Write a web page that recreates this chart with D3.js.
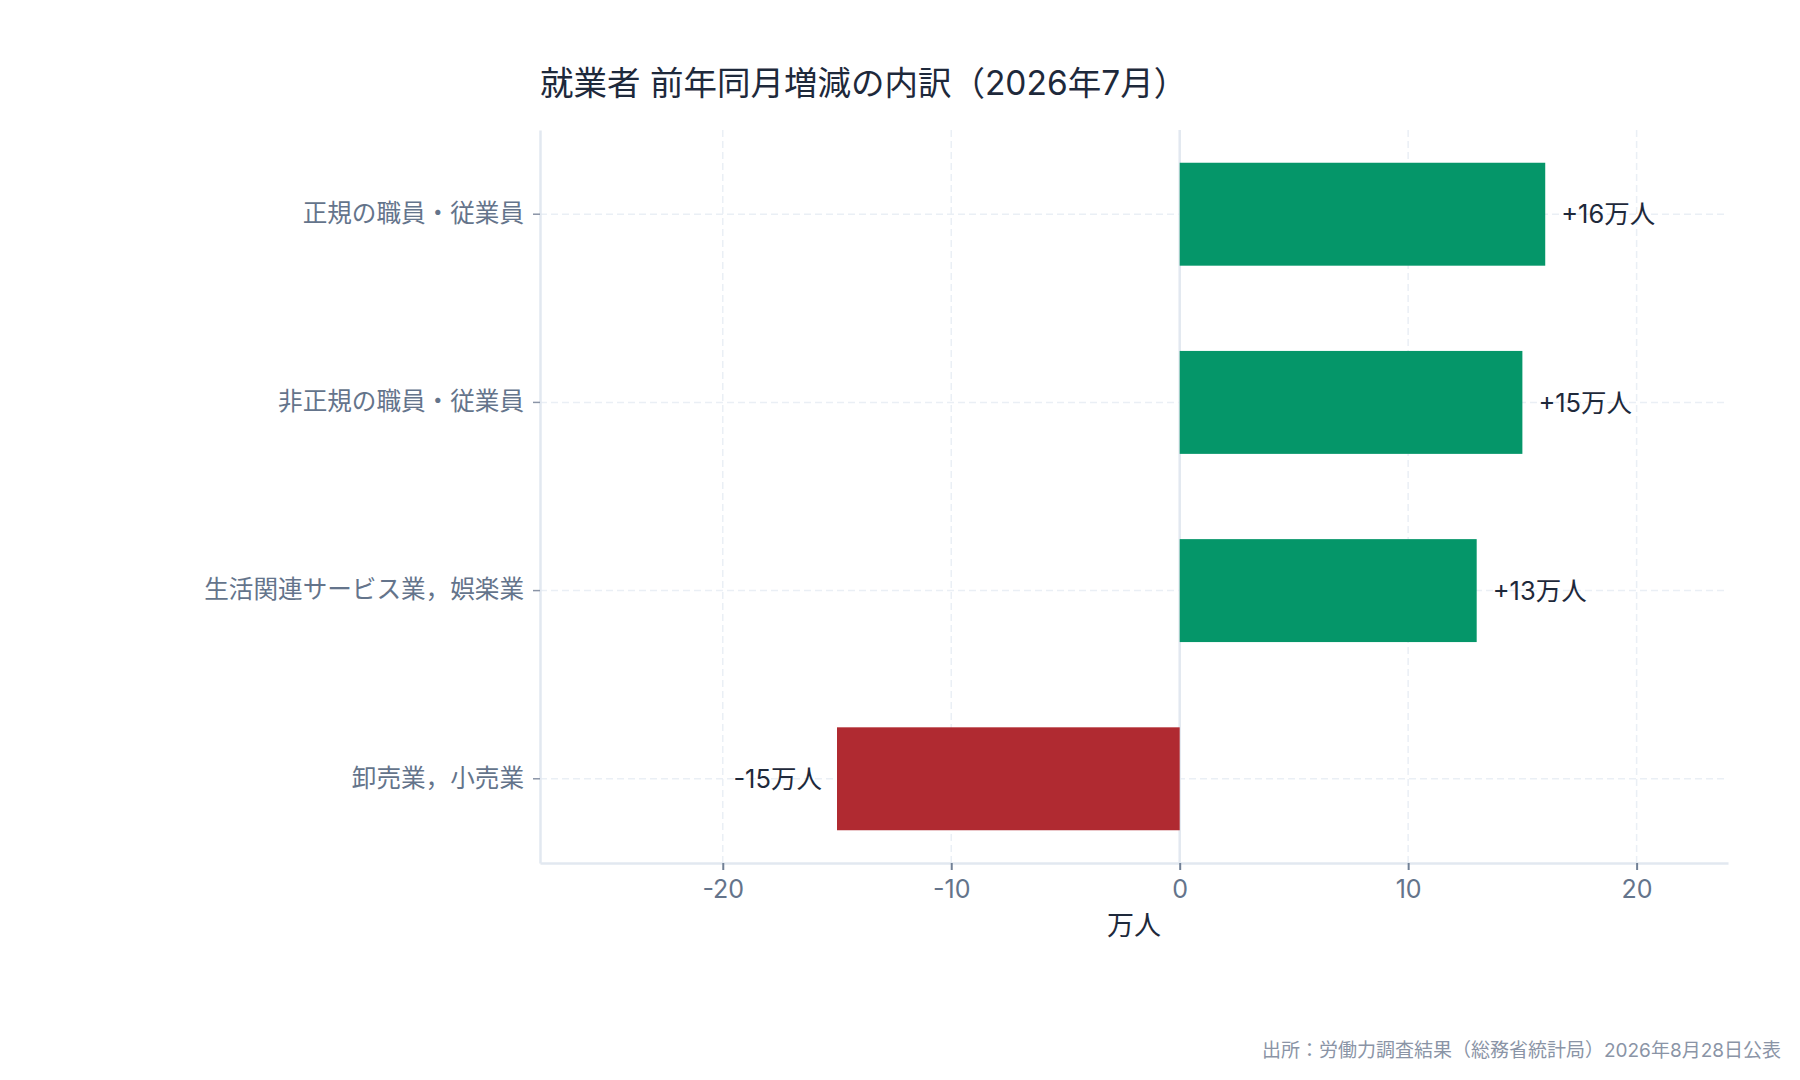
<!DOCTYPE html>
<html lang="ja">
<head>
    <meta charset="UTF-8">
    <title>就業者 前年同月増減の内訳</title>
    <script src="https://cdn.jsdelivr.net/npm/d3@7/dist/d3.min.js"></script>
    <style>
        body { margin: 0; background: #ffffff; }
        svg text { font-family: Inter, "Noto Sans CJK JP", "Noto Sans", sans-serif; }
    </style>
</head>
<body>
    <div id="grafico"></div>
    <script type="text/javascript">

        // data
        var categories = ["正規の職員・従業員", "非正規の職員・従業員", "生活関連サービス業，娯楽業", "卸売業，小売業"];
        var values = [16, 15, 13, -15];
        var xTicks = [-20, -10, 0, 10, 20];
        var xDomain = [-28, 24];

        var title = "就業者 前年同月増減の内訳（2026年7月）";
        var xTitle = "万人";
        var source = "出所：労働力調査結果（総務省統計局）2026年8月28日公表";

        var w = 1800, h = 1080;
        var plotL = 540, plotR = 1728, plotT = 130, plotB = 863;

        var svg = d3.select("#grafico").append("svg")
            .attr("width", w)
            .attr("height", h);

        var x = d3.scaleLinear().domain(xDomain).range([plotL, plotR]);
        var y = d3.scaleBand()
            .domain(categories)
            .range([plotT, plotB])
            .paddingInner(0.453)
            .paddingOuter(0.174);

        // grid
        svg.append("g").selectAll("line")
            .data(xTicks.filter(function(d) { return d !== 0; }))
            .enter().append("line")
            .attr("x1", function(d) { return x(d); })
            .attr("x2", function(d) { return x(d); })
            .attr("y1", plotT)
            .attr("y2", plotB)
            .attr("stroke", "#eaeff5")
            .attr("stroke-width", 1.5)
            .attr("stroke-dasharray", "7,4");

        svg.append("g").selectAll("line")
            .data(categories)
            .enter().append("line")
            .attr("x1", plotL)
            .attr("x2", plotR)
            .attr("y1", function(d) { return y(d) + y.bandwidth() / 2; })
            .attr("y2", function(d) { return y(d) + y.bandwidth() / 2; })
            .attr("stroke", "#eaeff5")
            .attr("stroke-width", 1.5)
            .attr("stroke-dasharray", "7,4");

        // zero line
        svg.append("line")
            .attr("x1", x(0)).attr("x2", x(0))
            .attr("y1", plotT).attr("y2", plotB)
            .attr("stroke", "#e2e8f0")
            .attr("stroke-width", 2.5);

        // bars
        svg.selectAll("rect.bar")
            .data(values)
            .enter()
            .append("rect")
            .attr("class", "bar")
            .attr("x", function(d) { return x(Math.min(0, d)); })
            .attr("y", function(d, i) { return y(categories[i]); })
            .attr("width", function(d) { return Math.abs(x(d) - x(0)); })
            .attr("height", y.bandwidth())
            .attr("fill", function(d) { return d >= 0 ? "#059669" : "#b02a31"; });

        // value labels
        svg.selectAll("text.val")
            .data(values)
            .enter()
            .append("text")
            .attr("class", "val")
            .text(function(d) { return (d > 0 ? "+" : "") + d + "万人"; })
            .attr("x", function(d) { return d >= 0 ? x(d) + 16 : x(d) - 15; })
            .attr("y", function(d, i) { return y(categories[i]) + y.bandwidth() / 2; })
            .attr("dy", "0.36em")
            .attr("text-anchor", function(d) { return d >= 0 ? "start" : "end"; })
            .attr("font-size", "25.5px")
            .attr("fill", "#1e293b");

        // x axis
        var xAxis = svg.append("g")
            .attr("transform", "translate(0," + plotB + ")")
            .call(d3.axisBottom(x)
                .tickValues(xTicks)
                .tickFormat(function(d) { return String(d); })
                .tickSizeInner(7)
                .tickSizeOuter(0)
                .tickPadding(10));
        xAxis.select(".domain").attr("stroke", "#e2e8f0").attr("stroke-width", 2.5);
        xAxis.selectAll(".tick line").attr("stroke", "#718096").attr("stroke-width", 2);
        xAxis.selectAll(".tick text")
            .attr("font-size", "25px")
            .attr("fill", "#64748b");

        // y axis
        var yAxis = svg.append("g")
            .attr("transform", "translate(" + plotL + ",0)")
            .call(d3.axisLeft(y)
                .tickSizeInner(7)
                .tickSizeOuter(0)
                .tickPadding(9));
        yAxis.select(".domain").attr("stroke", "#e2e8f0").attr("stroke-width", 2.5);
        yAxis.selectAll(".tick line").attr("stroke", "#8a94a6").attr("stroke-width", 1.5);
        yAxis.selectAll(".tick text")
            .attr("font-size", "24.6px")
            .attr("fill", "#64748b");

        // titles
        svg.append("text")
            .text(title)
            .attr("x", plotL)
            .attr("y", 95)
            .attr("font-size", "33.5px")
            .attr("fill", "#1e293b");

        svg.append("text")
            .text(xTitle)
            .attr("x", (plotL + plotR) / 2)
            .attr("y", 935)
            .attr("text-anchor", "middle")
            .attr("font-size", "27px")
            .attr("fill", "#1e293b");

        svg.append("text")
            .text(source)
            .attr("x", 1781)
            .attr("y", 1057)
            .attr("text-anchor", "end")
            .attr("font-size", "19px")
            .attr("fill", "#8a94a6");

    </script>
</body>
</html>
